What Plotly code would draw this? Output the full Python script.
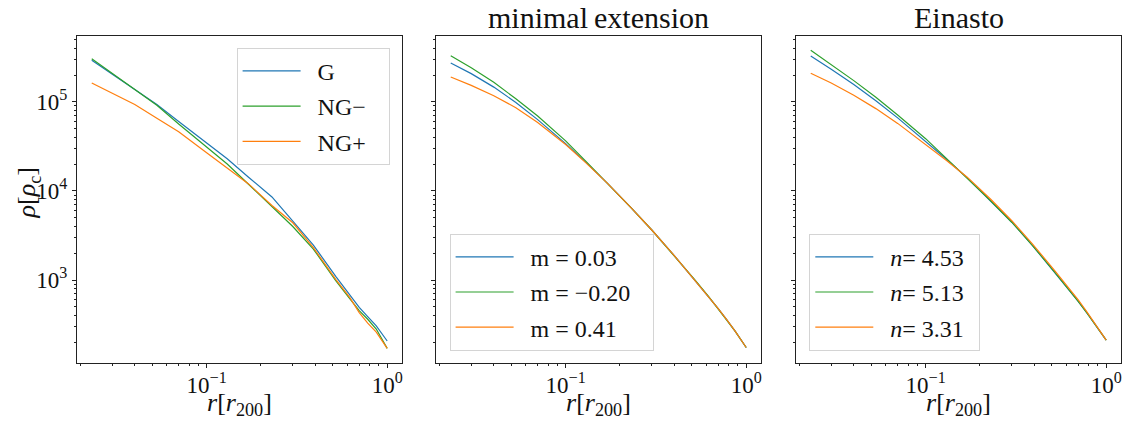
import plotly.graph_objects as go

# radius grid in units of r200
r = [0.0231, 0.03, 0.04, 0.053, 0.07, 0.1, 0.13, 0.17, 0.23, 0.3, 0.39, 0.52, 0.62, 0.7, 0.78, 0.87, 1.0]

# panel 1: simulated profiles
rho_G = [293800, 205100, 137700, 93500, 60400, 34700, 23000, 14380, 8580, 4590, 2470, 1094, 672, 493, 388, 306, 207]
rho_NGm = [305300, 208900, 137400, 91800, 56400, 30900, 20060, 12000, 6610, 3990, 2230, 982, 620, 454, 363, 282, 171]
rho_NGp = [163300, 125900, 93700, 65600, 46200, 26900, 18040, 12090, 6870, 4400, 2310, 1013, 638, 432, 329, 260, 171]

# panel 2: minimal extension fits
me_G = [273100, 207700, 146600, 98700, 63300, 34060, 20800, 12250, 6505, 3648, 1998, 1003, 653, 478, 359, 266, 175]
me_NGm = [329700, 242000, 165900, 108600, 69500, 36520, 21350, 12250, 6505, 3648, 1998, 1003, 653, 478, 359, 266, 175]
me_NGp = [190700, 153500, 117400, 86100, 58700, 33200, 20530, 12250, 6505, 3648, 1998, 1003, 653, 478, 359, 266, 175]

# panel 3: Einasto fits
ein_G = [327300, 233300, 156400, 103100, 66150, 36240, 22830, 14040, 7715, 4462, 2457, 1220, 793, 577, 430, 318, 212]
ein_NGm = [380200, 264100, 173400, 112600, 71300, 38660, 23180, 14040, 7715, 4462, 2457, 1220, 793, 577, 430, 318, 212]
ein_NGp = [209900, 162900, 118600, 84100, 57400, 33370, 22180, 14300, 8020, 4638, 2554, 1268, 824, 600, 443, 325, 212]

labels1 = ["G", "NG\u2212", "NG+"]
labels2 = ["m = 0.03", "m = \u22120.20", "m = 0.41"]
labels3 = ["<i>n</i>= 4.53", "<i>n</i>= 5.13", "<i>n</i>= 3.31"]
titles = ["", "minimal\u2009extension", "Einasto"]
xtitle = "<i>r</i>[<i>r</i><sub>200</sub>]"
ytitle = "<i>\u03c1</i>[<i>\u03c1</i><sub>c</sub>]"

colors = ["#1f77b4", "#2ca02c", "#ff7f0e"]
FONT = "Liberation Serif"
W, H = 1126, 421

# plot-area geometry (pixels)
ML, MR, MT, MB = 76.7, 5.3, 35.7, 58.0
PW = W - ML - MR
PH = H - MT - MB
left_px = [76.7, 435.7, 795.7]
pw = 325.0


def nx(px):
    return (px - ML) / PW


def ny(py):
    return (H - MB - py) / PH


fig = go.Figure()
panels = [
    ([rho_G, rho_NGm, rho_NGp], labels1, "\u2002\u2009"),
    ([me_G, me_NGm, me_NGp], labels2, "\u2002\u2009"),
    ([ein_G, ein_NGm, ein_NGp], labels3, "\u2009\u2009"),
]
for p, (series, labs, pad) in enumerate(panels):
    ax = "" if p == 0 else str(p + 1)
    for k, (ys, lab) in enumerate(zip(series, labs)):
        fig.add_trace(go.Scatter(
            x=r, y=ys, mode="lines", name="  " + lab + pad,
            line=dict(color=colors[k], width=1.2),
            xaxis="x" + ax, yaxis="y" + ax,
            legend="legend" + ax, legendgroup=f"p{p}k{k}",
        ))

xminor = [0.02, 0.03, 0.04, 0.05, 0.06, 0.07, 0.08, 0.09, 0.2, 0.3, 0.4, 0.5, 0.6, 0.7, 0.8, 0.9]
yminor = [m * 10 ** e for e in (2, 3, 4, 5) for m in range(2, 10) if 150 < m * 10 ** e < 6e5]

axis_common = dict(
    type="log", showline=True, mirror=True, linecolor="#222", linewidth=1.3,
    ticks="outside", ticklen=4, tickwidth=1, tickcolor="#222",
    showgrid=False, zeroline=False, automargin=False,
    tickfont=dict(family=FONT, size=23, color="#111"),
)

layout = dict(
    width=W, height=H, plot_bgcolor="white", paper_bgcolor="white",
    margin=dict(l=ML, r=MR, t=MT, b=MB, autoexpand=False),
    font=dict(family=FONT, color="#111"),
)
for p in range(3):
    ax = "" if p == 0 else str(p + 1)
    xa = dict(axis_common)
    xa.update(
        domain=[nx(left_px[p]), min(1.0, nx(left_px[p] + pw))], range=[-1.718, 0.082], anchor="y" + ax,
        tickmode="array", tickvals=[0.1, 1.0],
        ticktext=["10<sup>\u22121</sup>", "10<sup>0</sup>"], ticklabelstandoff=-3,
        minor=dict(tickmode="array", tickvals=xminor, ticks="outside", ticklen=2, tickcolor="#222"),
    )
    ya = dict(axis_common)
    ya.update(
        domain=[0, 1], range=[2.069, 5.740], anchor="x" + ax,
        tickmode="array", tickvals=[1e3, 1e4, 1e5],
        ticktext=["10<sup>3</sup>", "10<sup>4</sup>", "10<sup>5</sup>"],
        minor=dict(tickmode="array", tickvals=yminor, ticks="outside", ticklen=2, tickcolor="#222"),
        showticklabels=(p == 0),
    )
    layout["xaxis" + ax] = xa
    layout["yaxis" + ax] = ya

leg_common = dict(
    bgcolor="white", bordercolor="#d4d4d4", borderwidth=1,
    font=dict(family=FONT, size=24, color="#111"), tracegroupgap=1,
    itemwidth=58,
)
layout["legend"] = dict(leg_common, x=nx(389.3), xanchor="right", y=ny(47.5), yanchor="top")
layout["legend2"] = dict(leg_common, x=nx(449.3), xanchor="left", y=ny(350.7), yanchor="bottom")
layout["legend3"] = dict(leg_common, x=nx(809.0), xanchor="left", y=ny(350.7), yanchor="bottom")

annotations = []
for p in range(3):
    cx = nx(left_px[p] + pw / 2)
    if titles[p]:
        annotations.append(dict(
            text=titles[p], xref="paper", yref="paper", x=cx, y=ny(17),
            xanchor="center", yanchor="middle", showarrow=False,
            font=dict(family=FONT, size=30, color="#111"),
        ))
    annotations.append(dict(
        text=xtitle, xref="paper", yref="paper", x=cx, y=ny(404),
        xanchor="center", yanchor="middle", showarrow=False,
        font=dict(family=FONT, size=26, color="#111"),
    ))
annotations.append(dict(
    text=ytitle, xref="paper", yref="paper", x=nx(28), y=ny(193),
    xanchor="center", yanchor="middle", showarrow=False, textangle=-90,
    font=dict(family=FONT, size=26, color="#111"),
))
layout["annotations"] = annotations

fig.update_layout(**layout)
fig.write_html(
    "out.html",
    config={"displayModeBar": False},
    post_script="document.body.style.margin='0';document.body.style.padding='0';",
)
